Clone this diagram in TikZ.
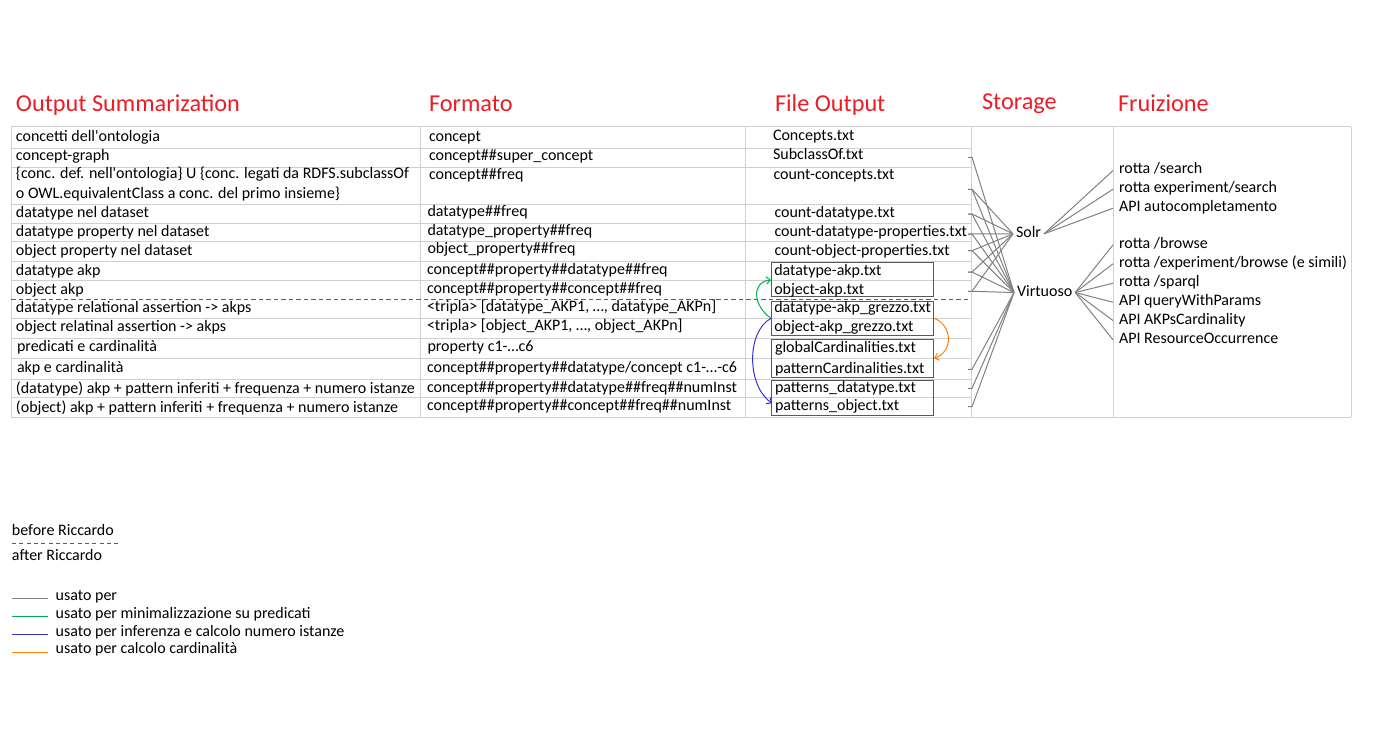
\documentclass[tikz,border=0pt]{standalone}
\usepackage{fontspec}
\setmainfont{Carlito}
\usetikzlibrary{arrows.meta}
\definecolor{hdrred}{RGB}{237,28,36}
\definecolor{gridgray}{RGB}{208,208,208}
\definecolor{conngray}{RGB}{128,128,128}
\definecolor{boxgray}{RGB}{89,89,89}
\definecolor{cgreen}{RGB}{0,176,80}
\definecolor{cblue}{RGB}{51,51,204}
\definecolor{corange}{RGB}{255,128,0}
\begin{document}
\begin{tikzpicture}[x=0.75pt,y=-0.75pt,
  txt/.style={anchor=base west, inner sep=0pt, outer sep=0pt, font=\fontsize{12}{14}\selectfont},
  hdr/.style={anchor=base west, inner sep=0pt, outer sep=0pt, text=hdrred, font=\fontsize{18.2}{22}\selectfont},
  stor/.style={txt, inner xsep=2.25pt, text height=0.72em, text depth=0.2em},
  fru/.style={txt, inner xsep=4.5pt, text height=0.72em, text depth=0.2em},
  gridline/.style={draw=gridgray, line width=0.75pt},
  cn/.style={draw=conngray, line width=0.75pt},
  filebox/.style={draw=boxgray, line width=0.75pt},
  rdashseg/.style={fill=hdrred, draw=none},
  carrow/.style={line width=0.75pt, -{Straight Barb[length=3pt,width=5.5pt]}}
]
\useasboundingbox (0,0) rectangle (1373,756);

% headers
\node[hdr] (h1) at (16,112) {Output Summarization};
\node[hdr] (h2) at (429,112) {Formato};
\node[hdr] (h3) at (775,112) {File Output};
\node[hdr] (h4) at (982,110) {Storage};
\node[hdr] (h5) at (1118,112) {Fruizione};

% table grid
\draw[gridline] (11,127) -- (1351,127);
\draw[gridline] (11,417) -- (1351,417);
\foreach \x in {11,420.5,745,971.5,1113,1351} \draw[gridline] (\x,127) -- (\x,417);
\foreach \y in {148.3,167.3,204.3,223.3,241.7,261.7,280,318.3,338.3,358.3,379.3,397.7}
  \draw[gridline] (11,\y) -- (971.5,\y);
% red dashed separator (before / after Riccardo)
\foreach \i in {0,...,127} \path[rdashseg] (11+7.5*\i,299) rectangle ++(4.5,1);

% column 1
\node[txt] (a1) at (16,142) {concetti dell\textquotesingle ontologia};
\node[txt] (a2) at (16,160.7) {concept-graph};
\node[txt] (a3) at (16,179) {\{conc. def. nell\textquotesingle ontologia\} U \{conc. legati da RDFS.subclassOf};
\node[txt] (a3b) at (16,198.3) {o OWL.equivalentClass a conc. del primo insieme\}};
\node[txt] (a4) at (16,217.3) {datatype nel dataset};
\node[txt] (a5) at (16,236) {datatype property nel dataset};
\node[txt] (a6) at (16,255) {object property nel dataset};
\node[txt] (a7) at (16,275) {datatype akp};
\node[txt] (a8) at (16,294) {object akp};
\node[txt] (a9) at (16,312.7) {datatype relational assertion -> akps};
\node[txt] (a10) at (16,331.7) {object relatinal assertion -> akps};
\node[txt] (a11) at (17,351.7) {predicati e cardinalità};
\node[txt] (a12) at (17,372.3) {akp e cardinalità};
\node[txt] (a13) at (16,393.3) {(datatype) akp + pattern inferiti + frequenza + numero istanze};
\node[txt] (a14) at (16,412.3) {(object) akp + pattern inferiti + frequenza + numero istanze};

% column 2
\node[txt] (b1) at (429,141.7) {concept};
\node[txt] (b2) at (429,160.7) {concept\#\#super\_concept};
\node[txt] (b3) at (429,180) {concept\#\#freq};
\node[txt] (b4) at (427.5,216) {datatype\#\#freq};
\node[txt] (b5) at (427.5,235) {datatype\_property\#\#freq};
\node[txt] (b6) at (427.5,253.3) {object\_property\#\#freq};
\node[txt] (b7) at (427,274) {concept\#\#property\#\#datatype\#\#freq};
\node[txt] (b8) at (427,293.3) {concept\#\#property\#\#concept\#\#freq};
\node[txt] (b9) at (427,311.7) {<tripla> [datatype\_AKP1, …, datatype\_AKPn]};
\node[txt] (b10) at (427,330.7) {<tripla> [object\_AKP1, …, object\_AKPn]};
\node[txt] (b11) at (427.5,351.7) {property c1-…c6};
\node[txt] (b12) at (427,372.3) {concept\#\#property\#\#datatype/concept c1-…-c6};
\node[txt] (b13) at (427,392.7) {concept\#\#property\#\#datatype\#\#freq\#\#numInst};
\node[txt] (b14) at (427,410.7) {concept\#\#property\#\#concept\#\#freq\#\#numInst};

% column 3 boxes
\draw[filebox] (771.7,262.7) rectangle (933.3,296);
\draw[filebox] (771.7,301) rectangle (933.3,335);
\draw[filebox] (771.7,339.3) rectangle (933.3,377.3);
\draw[filebox] (771.7,380.7) rectangle (933.3,415);

% column 3
\node[txt] (c1) at (773,140.7) {Concepts.txt};
\node[txt] (c2) at (773,160) {SubclassOf.txt};
\node[txt] (c3) at (773.5,179.3) {count-concepts.txt};
\node[txt] (c4) at (774.5,217.3) {count-datatype.txt};
\node[txt] (c5) at (774.5,236.7) {count-datatype-properties.txt};
\node[txt] (c6) at (774.5,255) {count-object-properties.txt};
\node[txt] (c7) at (774.3,275) {datatype-akp.txt};
\node[txt] (c8) at (774.3,294) {object-akp.txt};
\node[txt] (c9) at (774.3,312.7) {datatype-akp\_grezzo.txt};
\node[txt] (c10) at (774.3,331.7) {object-akp\_grezzo.txt};
\node[txt] (c11) at (775,352.7) {globalCardinalities.txt};
\node[txt] (c12) at (775,373.3) {patternCardinalities.txt};
\node[txt] (c13) at (775,392.7) {patterns\_datatype.txt};
\node[txt] (c14) at (775,410.7) {patterns\_object.txt};

% coloured relations
\coordinate (gstart) at (771,318.3);
\coordinate (gend) at (771,280);
\coordinate (bend) at (772,403.3);
\coordinate (ostart) at (934.3,318.3);
\coordinate (oend) at (934,358.3);
\draw[carrow, cgreen] (gstart) .. controls (753,306) and (751,282) .. (gend);
\draw[carrow, cblue] (gstart) .. controls (746,332) and (747,386) .. (bend);
\draw[carrow, corange] (ostart) .. controls (953,326) and (953,352) .. (oend);

% storage
\node[stor] (solr) at (1013,237.3) {Solr};
\node[stor] (virt) at (1014,296) {Virtuoso};

% stubs of files
\coordinate (s2) at (968,157.3);
\coordinate (s3) at (968,189.3);
\coordinate (s4) at (968,214);
\coordinate (s5) at (968,234);
\coordinate (s6) at (968,250.7);
\coordinate (s7) at (968,272);
\coordinate (s8) at (968,291.3);
\coordinate (s12) at (968,369.3);
\coordinate (s13) at (968,388.3);
\coordinate (s14) at (968,406.7);

\draw[cn] (s2) -- ++(4,0) -- (virt.west);
\foreach \s in {s3,s4,s5,s6,s7,s8} {
  \draw[cn] (\s) -- ++(4,0) -- (solr.west);
  \draw[cn] (\s) -- ++(4,0) -- (virt.west);
}
\foreach \s in {s12,s13,s14} \draw[cn] (\s) -- ++(4,0) -- (virt.west);

% fruizione
\node[fru] (q1) at (1113,174) {rotta /search};
\node[fru] (q2) at (1113,192.7) {rotta experiment/search};
\node[fru] (q3) at (1113,211.7) {API autocompletamento};
\node[fru] (q4) at (1113,248.3) {rotta /browse};
\node[fru] (q5) at (1113,267.3) {rotta /experiment/browse (e simili)};
\node[fru] (q6) at (1113,286.7) {rotta /sparql};
\node[fru] (q7) at (1113,305.7) {API queryWithParams};
\node[fru] (q8) at (1113,324) {API AKPsCardinality};
\node[fru] (q9) at (1113,343.3) {API ResourceOccurrence};

\foreach \q in {q1,q2,q3} \draw[cn] (solr.east) -- (\q.west);
\foreach \q in {q4,q5,q6,q7,q8,q9} \draw[cn] (virt.east) -- (\q.west);

% legend
\node[txt] (l1) at (12,535) {before Riccardo};
\foreach \i in {0,...,14} \path[rdashseg] (12+7.3*\i,543) rectangle ++(4,1);
\node[txt] (l2) at (12,560) {after Riccardo};

\draw[cn] (12,598.3) -- (48.3,598.3);
\node[txt] (l3) at (55.7,600.7) {usato per};
\draw[line width=0.75pt, cgreen] (12,616) -- (48.3,616);
\node[txt] (l4) at (55.7,618.3) {usato per minimalizzazione su predicati};
\draw[line width=0.75pt, cblue] (12,634) -- (48.3,634);
\node[txt] (l5) at (55.7,636) {usato per inferenza e calcolo numero istanze};
\draw[line width=0.75pt, corange] (12,652) -- (48.3,652);
\node[txt] (l6) at (55.7,653.3) {usato per calcolo cardinalità};
\end{tikzpicture}
\end{document}
